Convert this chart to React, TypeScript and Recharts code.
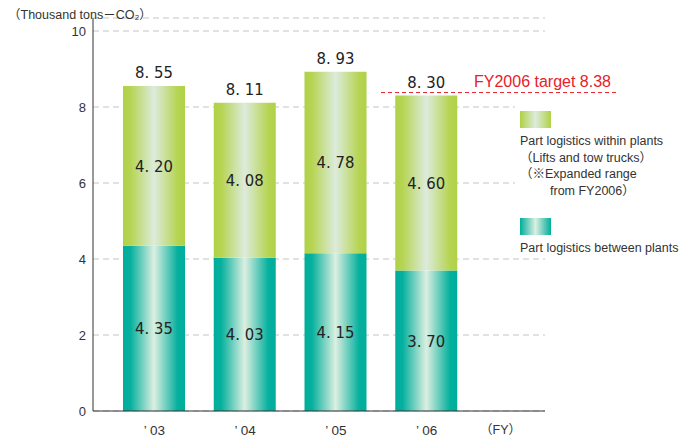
import React from "react";
import { BarChart, Bar, XAxis, YAxis, CartesianGrid, LabelList, ReferenceLine } from "recharts";

const years = ["’03", "’04", "’05", "’06"];
const betweenPlants = [4.35, 4.03, 4.15, 3.7];
const withinPlants = [4.2, 4.08, 4.78, 4.6];
const totals = [8.55, 8.11, 8.93, 8.3];
const yTicks = [0, 2, 4, 6, 8, 10];
const target = 8.38;

const data = years.map((year, i) => ({
    year,
    between: betweenPlants[i],
    within: withinPlants[i],
    total: totals[i],
}));

const fmt = (v: any) => {
    const s = Number(v).toFixed(2);
    return s.replace(".", ". ");
};

const FONT = "Arial, 'Liberation Sans', 'Noto Sans CJK JP', sans-serif";
const NUMFONT = "'Liberation Sans Narrow', 'DejaVu Sans Condensed', 'Noto Sans CJK JP', sans-serif";

const TotalLabel = (props: any) => {
    const { x, y, width, index } = props;
    return (
        <text x={x + width / 2} y={y - 8} textAnchor="middle" fontSize={16.5} fill="#222" fontFamily={NUMFONT}>
            {fmt(totals[index])}
        </text>
    );
};

const InnerLabel = (props: any) => {
    const { x, y, width, height, value } = props;
    return (
        <text x={x + width / 2} y={y + height / 2 + 6} textAnchor="middle" fontSize={16.5} fill="#222" fontFamily={NUMFONT}>
            {fmt(value)}
        </text>
    );
};

const TargetShape = (props: any) => {
    const y = props.y1;
    return (
        <g>
            <line x1={381} x2={617} y1={y} y2={y} stroke="#e8202a" strokeWidth={1} strokeDasharray="4 3" />
            <text x={474} y={y - 6} fontSize={16} fill="#e8202a" fontFamily={FONT}>
                FY2006 target {target}
            </text>
        </g>
    );
};

export default function App() {
    return (
        <div style={{ position: "absolute", left: 0, top: 0, width: 696, height: 437, background: "#fff", fontFamily: FONT }}>
            <BarChart width={696} height={437} data={data} margin={{ top: 18, right: 151, bottom: 0, left: 33 }} barSize={62}>
                <defs>
                    <linearGradient id="gTeal" x1="0" y1="0" x2="1" y2="0">
                        <stop offset="0%" stopColor="#00ad9b" />
                        <stop offset="12%" stopColor="#06b09e" />
                        <stop offset="50%" stopColor="#dcefe1" />
                        <stop offset="88%" stopColor="#06b09e" />
                        <stop offset="100%" stopColor="#00ad9b" />
                    </linearGradient>
                    <linearGradient id="gGreen" x1="0" y1="0" x2="1" y2="0">
                        <stop offset="0%" stopColor="#b0d146" />
                        <stop offset="12%" stopColor="#b6d453" />
                        <stop offset="50%" stopColor="#dcebdc" />
                        <stop offset="88%" stopColor="#b6d453" />
                        <stop offset="100%" stopColor="#b0d146" />
                    </linearGradient>
                </defs>
                <CartesianGrid vertical={false} stroke="#c4c4c4" strokeDasharray="6 4" />
                <XAxis
                    dataKey="year"
                    height={26}
                    tickSize={0}
                    tickMargin={14}
                    padding={{ left: 16, right: 73 }}
                    axisLine={{ stroke: "#333" }}
                    tickFormatter={(v: string) => v.replace("’", "’ ")}
                    tick={{ fontSize: 13.5, fill: "#333", fontFamily: FONT }}
                />
                <YAxis
                    width={60}
                    domain={[0, 10.342]}
                    ticks={yTicks}
                    tickSize={0}
                    tickMargin={7}
                    axisLine={{ stroke: "#333" }}
                    tick={{ fontSize: 13, fill: "#333", fontFamily: FONT }}
                />
                <Bar dataKey="between" stackId="a" fill="url(#gTeal)" isAnimationActive={false}>
                    <LabelList dataKey="between" content={InnerLabel} />
                </Bar>
                <Bar dataKey="within" stackId="a" fill="url(#gGreen)" isAnimationActive={false}>
                    <LabelList dataKey="within" content={InnerLabel} />
                    <LabelList dataKey="total" content={TotalLabel} />
                </Bar>
                <ReferenceLine y={target} shape={TargetShape} />
            </BarChart>

            <div style={{ position: "absolute", left: 8, top: 4, fontSize: 12.5, color: "#333" }}>
                （Thousand tons－CO₂）
            </div>
            <div style={{ position: "absolute", left: 480, top: 419, fontSize: 12.5, color: "#333" }}>（FY）</div>

            <div style={{ position: "absolute", left: 515, top: 104, width: 176, background: "#fff", fontSize: 12.5, color: "#333", lineHeight: "16.5px", padding: "7px 0 0 5px" }}>
                <div style={{ width: 31, height: 17, background: "linear-gradient(90deg,#b0d146,#dcebdc 50%,#b0d146)" }} />
                <div style={{ marginTop: 5 }}>Part logistics within plants</div>
                <div>（Lifts and tow trucks）</div>
                <div>（※Expanded range</div>
                <div style={{ paddingLeft: 30 }}>from FY2006）</div>
                <div style={{ width: 31, height: 17, marginTop: 19, background: "linear-gradient(90deg,#00ad9b,#dcefe1 50%,#00ad9b)" }} />
                <div style={{ marginTop: 5 }}>Part logistics between plants</div>
            </div>
        </div>
    );
}
